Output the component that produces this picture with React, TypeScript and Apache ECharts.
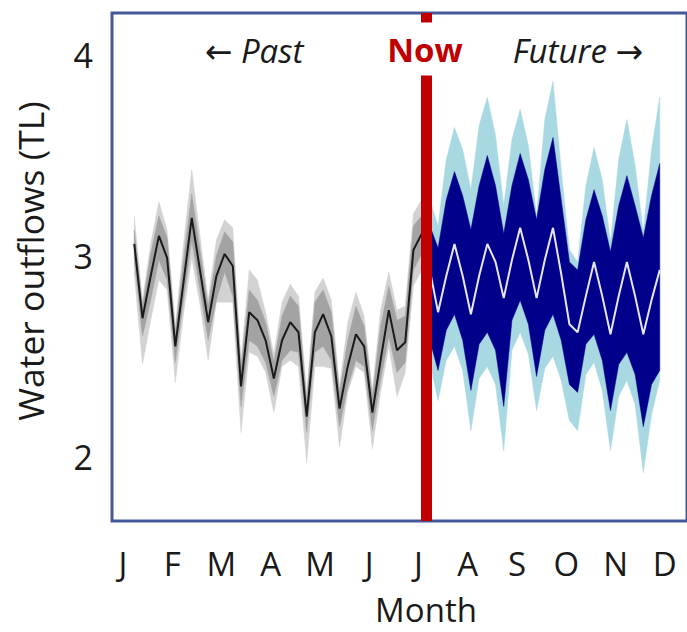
import React, { useEffect, useRef } from "react";
import * as echarts from "echarts";

// ---- data (5-day steps; x in months, J = 0 … D = 11) ----
const MONTHS = ["J", "F", "M", "A", "M", "J", "J", "A", "S", "O", "N", "D"];
const Y_TICKS = [2, 3, 4];
const STEP_START = 0.23;
const STEP = 1 / 6;
const NOW_X = 6.16;
const FUTURE_START = 36;

const pastMedian = [3.06, 2.69, 2.9, 3.1, 2.99, 2.55, 2.87, 3.19, 2.93, 2.67, 2.9, 3.01, 2.95, 2.35, 2.72, 2.68, 2.58, 2.39, 2.58, 2.67, 2.62, 2.2, 2.62, 2.71, 2.6, 2.24, 2.45, 2.61, 2.55, 2.22, 2.48, 2.73, 2.53, 2.57, 3.03, 3.11];
const pastInnerUpper = [3.13, 2.75, 3.01, 3.2, 3.09, 2.62, 2.98, 3.31, 3.03, 2.75, 3.0, 3.12, 3.07, 2.45, 2.83, 2.78, 2.67, 2.47, 2.7, 2.8, 2.75, 2.28, 2.77, 2.83, 2.72, 2.32, 2.58, 2.75, 2.65, 2.3, 2.65, 2.85, 2.68, 2.7, 3.15, 3.2];
const pastOuterUpper = [3.2, 2.78, 3.06, 3.27, 3.13, 2.65, 3.06, 3.43, 3.1, 2.78, 3.08, 3.18, 3.14, 2.48, 2.93, 2.88, 2.72, 2.51, 2.77, 2.86, 2.8, 2.32, 2.82, 2.89, 2.78, 2.35, 2.67, 2.82, 2.7, 2.33, 2.73, 2.92, 2.73, 2.75, 3.21, 3.28];
const pastInnerLower = [2.98, 2.6, 2.78, 2.98, 2.88, 2.47, 2.78, 3.08, 2.83, 2.58, 2.78, 2.92, 2.8, 2.25, 2.58, 2.55, 2.47, 2.3, 2.48, 2.53, 2.52, 2.12, 2.52, 2.55, 2.48, 2.15, 2.35, 2.48, 2.45, 2.13, 2.38, 2.6, 2.42, 2.47, 2.93, 3.01];
const pastOuterLower = [2.91, 2.46, 2.68, 2.88, 2.83, 2.37, 2.71, 2.99, 2.76, 2.48, 2.77, 2.77, 2.77, 2.12, 2.52, 2.5, 2.42, 2.22, 2.45, 2.48, 2.45, 1.97, 2.45, 2.45, 2.44, 2.05, 2.32, 2.45, 2.42, 2.04, 2.32, 2.55, 2.3, 2.42, 2.85, 2.93];

const futureMedian = [2.93, 2.72, 2.9, 3.06, 2.9, 2.71, 2.9, 3.06, 2.97, 2.79, 2.98, 3.14, 2.98, 2.79, 2.98, 3.14, 2.91, 2.66, 2.62, 2.8, 2.97, 2.8, 2.61, 2.8, 2.97, 2.8, 2.61, 2.78, 2.93];
const futureInnerUpper = [3.15, 3.04, 3.28, 3.42, 3.3, 3.13, 3.35, 3.5, 3.35, 3.11, 3.35, 3.51, 3.38, 3.18, 3.43, 3.59, 3.28, 2.97, 2.93, 3.18, 3.33, 3.2, 3.02, 3.25, 3.4, 3.25, 3.09, 3.3, 3.46];
const futureOuterUpper = [3.28, 3.15, 3.48, 3.64, 3.53, 3.33, 3.65, 3.79, 3.6, 3.25, 3.58, 3.73, 3.55, 3.2, 3.68, 3.87, 3.43, 3.03, 2.97, 3.35, 3.54, 3.38, 3.07, 3.48, 3.68, 3.45, 3.12, 3.53, 3.79];
const futureInnerLower = [2.58, 2.43, 2.63, 2.71, 2.58, 2.33, 2.56, 2.62, 2.53, 2.25, 2.68, 2.78, 2.66, 2.4, 2.63, 2.71, 2.58, 2.36, 2.32, 2.56, 2.61, 2.48, 2.23, 2.46, 2.52, 2.41, 2.15, 2.36, 2.43];
const futureOuterLower = [2.47, 2.28, 2.48, 2.55, 2.43, 2.13, 2.39, 2.45, 2.36, 2.03, 2.53, 2.62, 2.51, 2.23, 2.44, 2.5, 2.38, 2.18, 2.13, 2.41, 2.47, 2.33, 2.03, 2.3, 2.38, 2.26, 1.92, 2.21, 2.38];

const FONT = "'Open Sans', 'DejaVu Sans', sans-serif";

const xAt = (k: number) => STEP_START + k * STEP;

function pairs(start: number, vals: number[]) {
  return vals.map((v, i) => [xAt(start + i), v]);
}

// A filled band between two edges, drawn as one polygon through the chart's scales.
function band(start: number, lo: number[], hi: number[], color: string) {
  const data = lo.map((l, i) => [xAt(start + i), l, hi[i]]);
  return {
    type: "custom",
    silent: true,
    data,
    encode: { x: 0, y: [1, 2] },
    renderItem: (params: any, api: any) => {
      if (params.dataIndex !== 0) return null;
      const top = data.map((d) => api.coord([d[0], d[2]]));
      const bottom = data.map((d) => api.coord([d[0], d[1]])).reverse();
      return {
        type: "polygon",
        shape: { points: top.concat(bottom) },
        style: { fill: color, stroke: color, lineWidth: 0.5 },
      };
    },
  };
}

export default function App() {
  const ref = useRef<HTMLDivElement>(null);
  useEffect(() => {
    document.body.style.margin = "0";
    if (!ref.current) return;
    const chart = echarts.init(ref.current, null, { renderer: "svg" });
    chart.setOption({
      animation: false,
      backgroundColor: "#ffffff",
      grid: {
        show: true,
        left: 112,
        top: 13,
        right: -4,
        bottom: 111,
        borderColor: "#44599a",
        borderWidth: 3,
        backgroundColor: "transparent",
      },
      xAxis: {
        type: "value",
        min: -0.222,
        max: 11.45,
        axisLine: { show: false },
        axisTick: { show: false },
        splitLine: { show: false },
        axisLabel: {
          customValues: MONTHS.map((_, i) => i),
          formatter: (v: number) => MONTHS[Math.round(v)] ?? "",
          fontSize: 33,
          fontFamily: FONT,
          color: "#1a1a1a",
          margin: 26,
        },
      },
      yAxis: {
        type: "value",
        min: 1.68,
        max: 4.21,
        axisLine: { show: false },
        axisTick: { show: false },
        splitLine: { show: false },
        axisLabel: {
          customValues: Y_TICKS,
          fontSize: 34,
          fontFamily: FONT,
          color: "#1a1a1a",
          margin: 19,
        },
      },
      series: [
        band(0, pastOuterLower, pastOuterUpper, "#d2d2d2"),
        band(0, pastInnerLower, pastInnerUpper, "#a3a3a3"),
        {
          type: "line",
          data: pairs(0, pastMedian),
          symbol: "none",
          lineStyle: { color: "#1a1a1a", width: 2 },
          silent: true,
        },
        band(FUTURE_START, futureOuterLower, futureOuterUpper, "#a8d8e2"),
        band(FUTURE_START, futureInnerLower, futureInnerUpper, "#00008b"),
        {
          type: "line",
          data: pairs(FUTURE_START, futureMedian),
          symbol: "none",
          lineStyle: { color: "#e6e6ff", width: 2 },
          silent: true,
          markLine: {
            silent: true,
            symbol: ["none", "none"],
            label: { show: false },
            lineStyle: { color: "#c00000", width: 11, type: "solid" },
            data: [{ xAxis: NOW_X }],
          },
        },
      ],
      graphic: [
        {
          type: "text",
          z: 100,
          x: 254,
          y: 50,
          style: { text: "← Past", font: `italic 33px ${FONT}`, fill: "#1a1a1a", align: "center", verticalAlign: "middle" },
        },
        {
          type: "text",
          z: 100,
          x: 425,
          y: 49,
          style: {
            text: "Now",
            font: `bold 33px ${FONT}`,
            fill: "#c00000",
            align: "center",
            verticalAlign: "middle",
            backgroundColor: "#ffffff",
            padding: [10, 6],
          },
        },
        {
          type: "text",
          z: 100,
          x: 578,
          y: 50,
          style: { text: "Future →", font: `italic 33px ${FONT}`, fill: "#1a1a1a", align: "center", verticalAlign: "middle" },
        },
        {
          type: "text",
          z: 100,
          x: 426,
          y: 609,
          style: { text: "Month", font: `33px ${FONT}`, fill: "#1a1a1a", align: "center", verticalAlign: "middle" },
        },
        {
          type: "text",
          z: 100,
          x: 30,
          y: 261,
          rotation: Math.PI / 2,
          style: { text: "Water outflows (TL)", font: `35.5px ${FONT}`, fill: "#1a1a1a", align: "center", verticalAlign: "middle" },
        },
      ],
    });
    return () => chart.dispose();
  }, []);
  return <div ref={ref} style={{ width: 687, height: 632 }} />;
}
